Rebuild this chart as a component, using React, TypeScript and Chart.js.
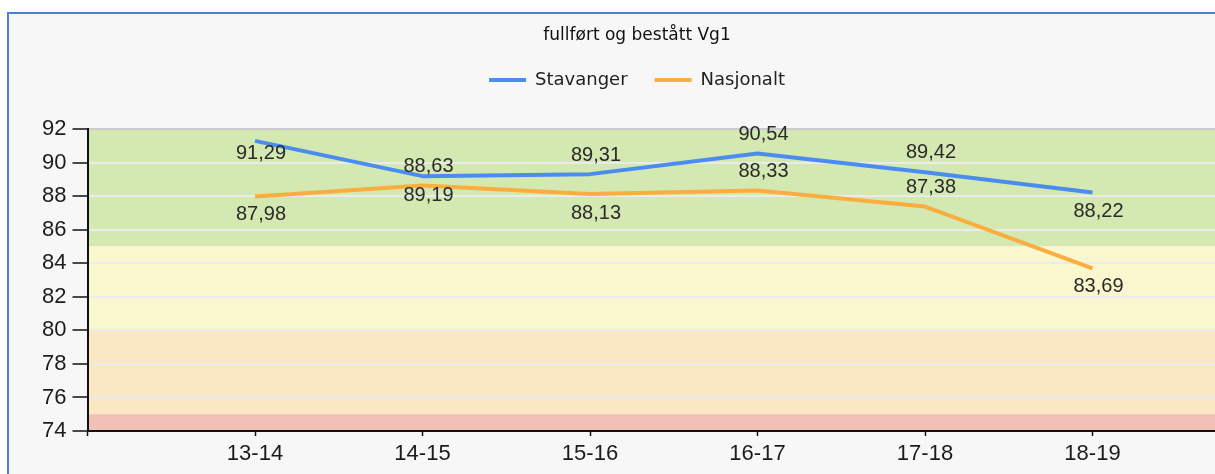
import React, { useEffect, useRef } from 'react';
import { Chart, registerables } from 'chart.js';

Chart.register(...registerables);

const chartTitle = 'fullført og bestått Vg1';
const categories = ['13-14', '14-15', '15-16', '16-17', '17-18', '18-19'];
const seriesNames = ['Stavanger', 'Nasjonalt'];
const stavanger = [91.29, 89.19, 89.31, 90.54, 89.42, 88.22];
const nasjonalt = [87.98, 88.63, 88.13, 88.33, 87.38, 83.69];
const yMin = 74;
const yMax = 92;
const yStep = 2;
// background zones (value ranges)
const bandFrom = [85, 80, 75, 74];
const bandTo = [92, 85, 80, 75];
const bandColors = ['#d4e8b2', '#faf6cd', '#fae7c4', '#f0c1b4'];
// label vertical offsets in px (negative = above point)
const stavangerLabelDy = [13, 19.5, -19, -19.5, -19.5, 19];
const nasjonaltLabelDy = [18, -19, 20, -19.5, -19.5, 18];

const colors = ['#4a8cf0', '#fbad3f'];

const bandsPlugin = {
  id: 'bands',
  beforeDraw(chart: any) {
    const { ctx, chartArea, scales } = chart;
    const y = scales.y;
    ctx.save();
    for (let i = 0; i < bandFrom.length; i++) {
      const top = y.getPixelForValue(bandTo[i]);
      const bottom = y.getPixelForValue(bandFrom[i]);
      ctx.fillStyle = bandColors[i];
      ctx.fillRect(chartArea.left, top, chartArea.right - chartArea.left, bottom - top);
    }
    ctx.restore();
  },
};

const labelsPlugin = {
  id: 'valueLabels',
  afterDatasetsDraw(chart: any) {
    const { ctx } = chart;
    const offsets = [stavangerLabelDy, nasjonaltLabelDy];
    ctx.save();
    ctx.font = '20px "Liberation Sans", Arial, sans-serif';
    ctx.fillStyle = '#2a2a2a';
    ctx.textAlign = 'center';
    ctx.textBaseline = 'middle';
    chart.data.datasets.forEach((ds: any, di: number) => {
      const meta = chart.getDatasetMeta(di);
      meta.data.forEach((pt: any, i: number) => {
        const v = ds.data[i].y as number;
        const txt = v.toFixed(2).replace('.', ',');
        ctx.fillText(txt, pt.x + 6, pt.y + offsets[di][i]);
      });
    });
    ctx.restore();
  },
};

export default function App() {
  const ref = useRef<HTMLCanvasElement | null>(null);

  useEffect(() => {
    if (!ref.current) return;
    const series = [stavanger, nasjonalt];
    const chart = new Chart(ref.current, {
      type: 'line',
      data: {
        datasets: series.map((vals, si) => ({
          label: seriesNames[si],
          data: categories.map((_, i) => ({ x: i + 1, y: vals[i] })),
          borderColor: colors[si],
          backgroundColor: colors[si],
          borderWidth: 4,
          pointRadius: 0,
          pointHoverRadius: 0,
          fill: false,
          tension: 0,
          borderJoinStyle: 'round',
          xAxisID: 'x',
          yAxisID: 'y',
        })),
      },
      options: {
        animation: false,
        responsive: false,
        devicePixelRatio: 1,
        layout: { padding: { top: 0, left: 0, right: 0, bottom: 1.6 } },
        plugins: {
          tooltip: { enabled: false },
          title: {
            display: true,
            text: chartTitle,
            color: '#111',
            font: { family: '"DejaVu Sans", sans-serif', size: 17, weight: 'normal', lineHeight: 1 },
            padding: { top: 13, bottom: 0 },
          },
          legend: {
            display: true,
            position: 'top',
            labels: {
              boxWidth: 37,
              boxHeight: 4,
              padding: 27,
              color: '#222',
              font: { family: '"DejaVu Sans", sans-serif', size: 18 },
              generateLabels: (c: any) =>
                c.data.datasets.map((ds: any, i: number) => ({
                  text: ds.label,
                  fillStyle: ds.borderColor,
                  strokeStyle: ds.borderColor,
                  lineWidth: 0,
                  hidden: false,
                  datasetIndex: i,
                  fontColor: '#222',
                })),
            },
          },
        },
        scales: {
          xTop: {
            type: 'linear',
            axis: 'x',
            position: 'top',
            display: true,
            grid: { display: false },
            border: { display: false },
            ticks: { display: false },
            afterFit: (s: any) => {
              s.height = 30;
            },
          },
          x: {
            type: 'linear',
            position: 'bottom',
            min: 0,
            max: categories.length + 1,
            grid: {
              display: true,
              drawOnChartArea: false,
              drawTicks: true,
              tickLength: 5,
              tickColor: '#111',
              tickWidth: 1.5,
            },
            border: { display: true, color: '#111', width: 2 },
            ticks: {
              stepSize: 1,
              autoSkip: false,
              maxRotation: 0,
              padding: 5,
              color: '#1c1c1c',
              font: { family: '"Liberation Sans", Arial, sans-serif', size: 22 },
              callback: (v: any) => categories[Number(v) - 1] ?? '',
            },
          },
          y: {
            type: 'linear',
            position: 'left',
            min: yMin,
            max: yMax,
            afterFit: (s: any) => {
              s.width = 78.5;
            },
            grid: {
              display: true,
              drawOnChartArea: true,
              drawTicks: true,
              tickLength: 15,
              tickColor: '#111',
              tickWidth: 1.5,
              lineWidth: 2,
              color: (c: any) => (c.tick && c.tick.value === yMax ? '#cccccc' : '#ebebeb'),
            },
            border: { display: true, color: '#111', width: 2 },
            ticks: {
              stepSize: yStep,
              padding: 6,
              color: '#1c1c1c',
              font: { family: '"Liberation Sans", Arial, sans-serif', size: 22 },
            },
          },
        },
      } as any,
      plugins: [bandsPlugin, labelsPlugin],
    });
    return () => chart.destroy();
  }, []);

  return (
    <div
      style={{
        position: 'fixed',
        left: 0,
        top: 0,
        width: 1215,
        height: 474,
        overflow: 'hidden',
        background: '#ffffff',
      }}
    >
      <div
        style={{
          position: 'absolute',
          left: 7,
          top: 12,
          width: 1400,
          height: 600,
          borderTop: '2px solid #4d7fd8',
          borderLeft: '2px solid #4d7fd8',
          background: '#f7f7f7',
        }}
      >
        <canvas
          ref={ref}
          width={1256}
          height={460}
          style={{ position: 'absolute', left: 0, top: 0, width: 1256, height: 460 }}
        />
      </div>
    </div>
  );
}
